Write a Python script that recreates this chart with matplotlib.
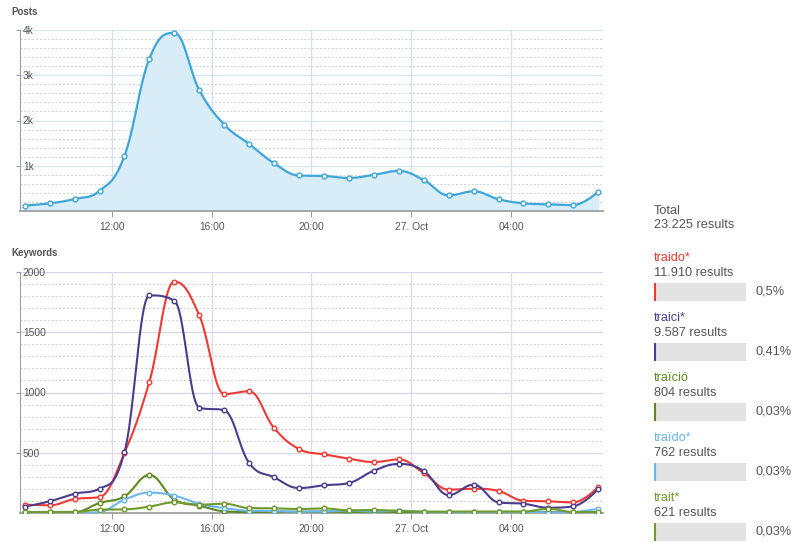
import numpy as np
import matplotlib
matplotlib.use("Agg")
import matplotlib.pyplot as plt

plt.rcParams['font.family'] = ['Liberation Sans', 'DejaVu Sans']

# hourly buckets, 26 Oct 08:30 -> 27 Oct 07:30 (hours since 26 Oct 00:00)
hours = [8.5, 9.5, 10.5, 11.5, 12.5, 13.5, 14.5, 15.5, 16.5, 17.5, 18.5, 19.5,
         20.5, 21.5, 22.5, 23.5, 24.5, 25.5, 26.5, 27.5, 28.5, 29.5, 30.5, 31.5]

posts = [120, 170, 265, 445, 1220, 3370, 3935, 2670, 1910, 1480, 1055, 785,
         775, 730, 800, 885, 685, 345, 435, 260, 170, 148, 132, 425]

traido = [69, 64, 116, 133, 500, 1090, 1920, 1640, 987, 1010, 705, 531,
          487, 451, 423, 445, 332, 194, 202, 183, 102, 97, 88, 216]
traici = [53, 97, 160, 202, 506, 1806, 1762, 874, 852, 415, 296, 207,
          230, 249, 351, 407, 349, 149, 235, 88, 77, 44, 55, 199]
traicio = [8, 8, 8, 83, 138, 315, 111, 61, 14, 8, 10, 10,
           12, 8, 8, 8, 8, 8, 8, 8, 8, 10, 8, 8]
traido2 = [0, 0, 0, 8, 111, 169, 144, 77, 41, 19, 17, 11,
           15, 20, 12, 20, 10, 8, 8, 8, 8, 5, 8, 36]
trait = [8, 8, 8, 28, 30, 53, 88, 69, 77, 41, 39, 33,
         38, 22, 25, 17, 11, 11, 12, 12, 12, 36, 8, 8]

kw_names = ["traido*", "traici*", "traïció", "traïdo*", "trait*"]
kw_results = ["11.910", "9.587", "804", "762", "621"]
kw_pct = ["0,5%", "0,41%", "0,03%", "0,03%", "0,03%"]
kw_colors = ['#ee3a33', '#4b3c8e', '#5e8b1f', '#6cb6ec', '#6f9a2c']
kw_series = [traido, traici, traicio, traido2, trait]

tick_pos = [12, 16, 20, 24, 28]
tick_lab = ["12:00", "16:00", "20:00", "27. Oct", "04:00"]


def spline(x, y, smoothing=1.5, n=24):
    # highcharts-style spline through the points
    x = np.asarray(x, float)
    y = np.asarray(y, float)
    m = len(x)
    lx, ly, rx, ry = x.copy(), y.copy(), x.copy(), y.copy()
    d = smoothing + 1
    for i in range(1, m - 1):
        lcx = (smoothing * x[i] + x[i - 1]) / d
        lcy = (smoothing * y[i] + y[i - 1]) / d
        rcx = (smoothing * x[i] + x[i + 1]) / d
        rcy = (smoothing * y[i] + y[i + 1]) / d
        corr = (rcy - lcy) * (rcx - x[i]) / (rcx - lcx) + y[i] - rcy
        lcy += corr
        rcy += corr
        if lcy > y[i - 1] and lcy > y[i]:
            lcy = max(y[i - 1], y[i]); rcy = 2 * y[i] - lcy
        elif lcy < y[i - 1] and lcy < y[i]:
            lcy = min(y[i - 1], y[i]); rcy = 2 * y[i] - lcy
        if rcy > y[i + 1] and rcy > y[i]:
            rcy = max(y[i + 1], y[i]); lcy = 2 * y[i] - rcy
        elif rcy < y[i + 1] and rcy < y[i]:
            rcy = min(y[i + 1], y[i]); lcy = 2 * y[i] - rcy
        lx[i], ly[i], rx[i], ry[i] = lcx, lcy, rcx, rcy
    t = np.linspace(0, 1, n)[:, None]
    xs, ys = [x[:1]], [y[:1]]
    for i in range(1, m):
        px = np.array([x[i - 1], rx[i - 1], lx[i], x[i]])
        py = np.array([y[i - 1], ry[i - 1], ly[i], y[i]])
        b = np.hstack([(1 - t) ** 3, 3 * (1 - t) ** 2 * t, 3 * (1 - t) * t ** 2, t ** 3])
        xs.append((b @ px)[1:])
        ys.append((b @ py)[1:])
    return np.concatenate(xs), np.concatenate(ys)


def style_axes(ax, ymax, major, minor, vcol, hcol, fmt):
    ax.set_xlim(8.31, 31.69)
    ax.set_ylim(0, ymax)
    for s in ['top', 'right']:
        ax.spines[s].set_visible(False)
    ax.spines['left'].set_color('#a0a0a0')
    ax.spines['bottom'].set_color('#a0a0a0')
    ax.spines['bottom'].set_linewidth(1.3)
    for v in np.arange(minor, ymax, minor):
        if v % major:
            ax.axhline(v, color='#cfcfcf', lw=0.7, ls=(0, (2, 2)), zorder=0)
    for v in np.arange(major, ymax + 1, major):
        ax.axhline(v, color=hcol, lw=0.9, zorder=0)
    for v in tick_pos:
        ax.axvline(v, color=vcol, lw=0.9, zorder=0)
    ax.set_xticks(tick_pos)
    ax.set_xticklabels(tick_lab)
    ax.tick_params(axis='x', length=4, color='#a0a0a0', labelsize=7.4,
                   labelcolor='#555555', pad=4)
    yt = np.arange(major, ymax + 1, major)
    ax.set_yticks(yt)
    ax.set_yticklabels([fmt(v) for v in yt])
    ax.tick_params(axis='y', length=3, color='#a0a0a0', labelsize=7.4,
                   labelcolor='#555555', pad=-5)
    for lab in ax.get_yticklabels():
        lab.set_horizontalalignment('left')


W, H = 794, 543
fig = plt.figure(figsize=(W / 100, H / 100), dpi=100)

ax1 = fig.add_axes([20 / W, 1 - 211 / H, 583 / W, 181 / H])
style_axes(ax1, 4000, 1000, 200, '#cde3f0', '#d3e5f0', lambda v: f"{int(v // 1000)}k")
sx, sy = spline(hours, posts)
ax1.fill_between(sx, 0, sy, color='#d9edf8', zorder=1)
ax1.plot(sx, sy, color='#3ea6da', lw=1.6, zorder=3)
ax1.plot(hours, posts, ls='none', marker='o', ms=3.5, mfc='white',
         mec='#3ea6da', mew=1, zorder=4)

ax2 = fig.add_axes([20 / W, 1 - 513 / H, 583 / W, 241 / H])
style_axes(ax2, 2000, 500, 100, '#dcdcee', '#d6d6ea', lambda v: f"{int(v)}")
for vals, col in zip(kw_series, kw_colors):
    sx, sy = spline(hours, vals)
    ax2.plot(sx, sy, color=col, lw=1.5, zorder=3)
    ax2.plot(hours, vals, ls='none', marker='o', ms=3.3, mfc='white',
             mec=col, mew=1, zorder=4)

fig.text(11 / W, 1 - 12 / H, "Posts", fontsize=7, fontweight='bold',
         color='#555555', va='center')
fig.text(11 / W, 1 - 253 / H, "Keywords", fontsize=7, fontweight='bold',
         color='#555555', va='center')

# right-hand summary panel
fs = 9.2
fig.text(654 / W, 1 - 211 / H, "Total", fontsize=fs, color='#555555', va='center')
fig.text(654 / W, 1 - 225 / H, "23.225 results", fontsize=fs, color='#555555', va='center')
for i, (name, res, pct, col) in enumerate(zip(kw_names, kw_results, kw_pct, kw_colors)):
    y0 = 258 + 60 * i
    fig.text(654 / W, 1 - y0 / H, name, fontsize=fs, color=col, va='center')
    fig.text(654 / W, 1 - (y0 + 15) / H, res + " results", fontsize=fs,
             color='#555555', va='center')
    bax = fig.add_axes([654 / W, 1 - (y0 + 43) / H, 92 / W, 18 / H])
    bax.barh(0, 1, height=1, color='#e2e2e2')
    bax.axvline(0, color=col, lw=2.2)
    bax.set_xlim(0, 1)
    bax.set_ylim(-0.5, 0.5)
    bax.axis('off')
    fig.text(755 / W, 1 - (y0 + 34) / H, pct, fontsize=fs, color='#555555', va='center')

fig.savefig("out.png", dpi=100)
